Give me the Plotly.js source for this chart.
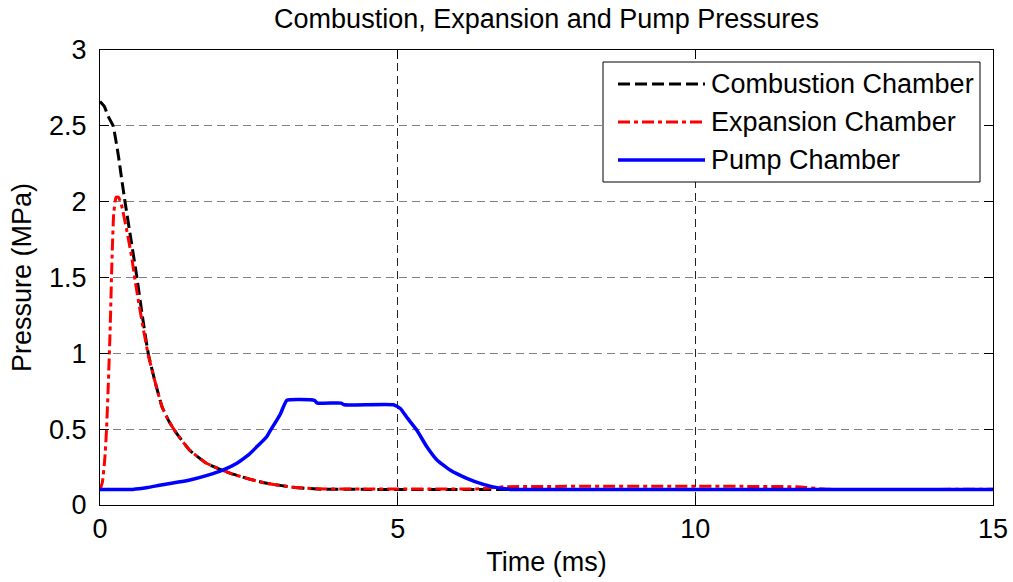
<!DOCTYPE html>
<html>
<head>
<meta charset="utf-8">
<script src="https://cdn.plot.ly/plotly-3.0.1.min.js"></script>
<style>html,body{margin:0;padding:0;background:#fff;}#chart{width:1013px;height:582px;}</style>
</head>
<body>
<div id="chart"></div>
<script>
// Combustion chamber pressure (MPa) vs time (ms)
const combT = [0, 0.07, 0.14, 0.22, 0.31, 0.36, 0.42, 0.52, 0.62, 0.71, 0.81, 0.92, 1.04, 1.16, 1.29, 1.51, 1.79, 2.18, 2.52, 2.8, 3.25, 3.64, 4.5, 6.3, 15];
const combP = [2.66, 2.63, 2.56, 2.5, 2.30, 2.16, 2.0, 1.75, 1.5, 1.25, 1.0, 0.82, 0.65, 0.55, 0.47, 0.36, 0.275, 0.21, 0.17, 0.143, 0.117, 0.105, 0.103, 0.103, 0.103];
// Expansion chamber
const expT = [0, 0.04, 0.08, 0.11, 0.14, 0.17, 0.2, 0.23, 0.27, 0.31, 0.36, 0.45, 0.53, 0.59, 0.64, 0.71, 0.81, 0.92, 1.04, 1.16, 1.29, 1.51, 1.79, 2.18, 2.52, 2.8, 3.25, 3.64, 4.5, 6.3, 6.8, 11.7, 12.2, 15];
const expP = [0.1, 0.15, 0.3, 0.5, 0.8, 1.15, 1.6, 1.92, 2.03, 2.03, 1.98, 1.81, 1.64, 1.48, 1.36, 1.2, 0.99, 0.82, 0.65, 0.55, 0.47, 0.36, 0.275, 0.21, 0.17, 0.143, 0.117, 0.107, 0.106, 0.106, 0.12, 0.12, 0.104, 0.104];
// Pump chamber
const pumpT = [0, 0.55, 0.8, 1.0, 1.2, 1.51, 1.8, 2.07, 2.3, 2.46, 2.52, 2.65, 2.8, 2.86, 2.97, 3.03, 3.14, 3.6, 3.65, 4.05, 4.1, 4.93, 5.05, 5.15, 5.32, 5.49, 5.66, 5.88, 6.16, 6.44, 6.72, 6.9, 15];
const pumpP = [0.103, 0.103, 0.115, 0.13, 0.143, 0.165, 0.195, 0.231, 0.275, 0.32, 0.34, 0.39, 0.45, 0.49, 0.56, 0.6, 0.69, 0.69, 0.672, 0.672, 0.661, 0.661, 0.635, 0.58, 0.494, 0.384, 0.297, 0.231, 0.176, 0.136, 0.11, 0.103, 0.103];

const seriesNames = ['Combustion Chamber', 'Expansion Chamber', 'Pump Chamber'];
const colors = ['#000000', '#ff0000', '#0000ff'];
const dashes = ['12px,5px', '12px,4px,4px,4px', 'solid'];
const xTicks = [0, 5, 10, 15];
const yTicks = [0, 0.5, 1, 1.5, 2, 2.5, 3];
const yTickText = ['0', '0.5', '1', '1.5', '2', '2.5', '3'];

const FONT = 'Liberation Sans, Arial, Helvetica, sans-serif';
const FS = 27;
const W = 1013, H = 582;
const M = {l: 100, r: 20, t: 50, b: 77};
const PW = W - M.l - M.r, PH = H - M.t - M.b;
const px = v => (v - M.l) / PW;
const py = v => (H - M.b - v) / PH;

const traces = [
  {x: combT, y: combP},
  {x: expT, y: expP},
  {x: pumpT, y: pumpP}
].map((d, i) => ({
  x: d.x, y: d.y, type: 'scatter', mode: 'lines', name: seriesNames[i],
  line: {color: colors[i], width: i === 2 ? 3.5 : 3, dash: dashes[i], shape: 'spline', smoothing: 0.4},
  showlegend: false, hoverinfo: 'x+y+name'
}));

// custom legend box
const shapes = [{
  type: 'rect', xref: 'paper', yref: 'paper',
  x0: px(603), x1: px(980), y0: py(182), y1: py(62),
  line: {color: '#000', width: 1}, fillcolor: '#fff', layer: 'above'
}];
const annotations = [];
const rowY = [84, 122, 160];
seriesNames.forEach((n, i) => {
  shapes.push({
    type: 'line', xref: 'paper', yref: 'paper',
    x0: px(618), x1: px(705), y0: py(rowY[i]), y1: py(rowY[i]),
    line: {color: colors[i], width: i === 2 ? 3.5 : 3, dash: dashes[i]}, layer: 'above'
  });
  annotations.push({
    xref: 'paper', yref: 'paper', x: px(709), y: py(rowY[i]),
    xanchor: 'left', yanchor: 'middle', text: n, showarrow: false,
    font: {family: FONT, size: FS, color: '#000'}
  });
});

const layout = {
  width: W, height: H,
  margin: M,
  paper_bgcolor: '#fff', plot_bgcolor: '#fff',
  font: {family: FONT, size: FS, color: '#000'},
  title: {text: 'Combustion, Expansion and Pump Pressures', xref: 'paper', x: 0.5, xanchor: 'center',
          yref: 'container', y: 1 - 19 / H, yanchor: 'middle', font: {family: FONT, size: FS, color: '#000'}},
  xaxis: {
    range: [0, 15], tickmode: 'array', tickvals: xTicks, ticktext: xTicks.map(String),
    ticks: 'inside', ticklen: 9, tickcolor: '#000', tickwidth: 1,
    showline: true, linecolor: '#000', linewidth: 1, mirror: 'ticks',
    showgrid: true, gridcolor: '#222', gridwidth: 1, griddash: '8px,5px',
    zeroline: false, ticklabelstandoff: 0,
    tickfont: {family: FONT, size: FS, color: '#000'},
    title: {text: 'Time (ms)', font: {family: FONT, size: FS, color: '#000'}, standoff: 8}
  },
  yaxis: {
    range: [0, 3], tickmode: 'array', tickvals: yTicks, ticktext: yTickText,
    ticks: 'inside', ticklen: 9, tickcolor: '#000', tickwidth: 1,
    showline: true, linecolor: '#000', linewidth: 1, mirror: 'ticks',
    showgrid: true, gridcolor: '#808080', gridwidth: 1, griddash: '8px,5px',
    zeroline: false, ticklabelstandoff: 7,
    tickfont: {family: FONT, size: FS, color: '#000'},
    title: {text: 'Pressure (MPa)', font: {family: FONT, size: FS, color: '#000'}, standoff: 9}
  },
  shapes: shapes,
  annotations: annotations,
  showlegend: false
};

Plotly.newPlot('chart', traces, layout, {displayModeBar: false, staticPlot: true});
</script>
</body>
</html>
